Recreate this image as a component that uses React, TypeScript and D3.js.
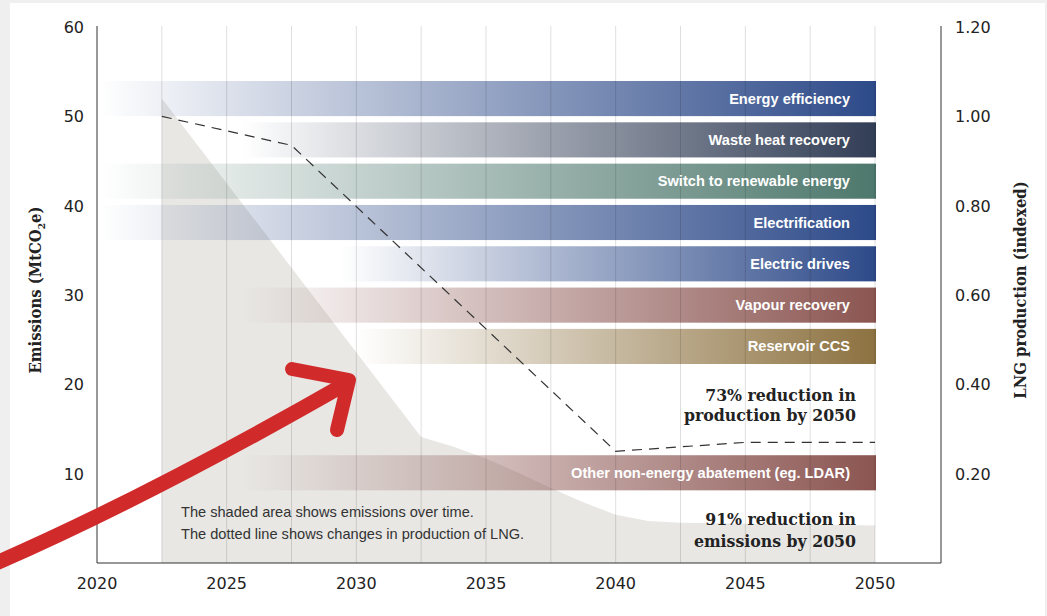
import React from 'react';
import * as d3 from 'd3';

// values
const xTickYears = [2020, 2025, 2030, 2035, 2040, 2045, 2050];
const emissionTicks = [10, 20, 30, 40, 50, 60];
const lngTicks = [0.2, 0.4, 0.6, 0.8, 1.0, 1.2];

const leverNames = [
  'Energy efficiency',
  'Waste heat recovery',
  'Switch to renewable energy',
  'Electrification',
  'Electric drives',
  'Vapour recovery',
  'Reservoir CCS',
];
const leverStartYears = [2020.1, 2025.6, 2020.1, 2020.1, 2029.4, 2025.6, 2030.0];
const otherLeverName = 'Other non-energy abatement (eg. LDAR)';
const otherLeverStartYear = 2025.6;
const otherLeverLevel = 10.1;

const emissionYears = [2022.5, 2032.5, 2033.75, 2035, 2036.25, 2037.5, 2038.75, 2040, 2041.25, 2042.5, 2050];
const emissionValues = [52, 14.1, 13.0, 11.7, 10.1, 8.4, 6.8, 5.4, 4.7, 4.5, 4.2];

const lngYears = [2022.5, 2027.5, 2040, 2045, 2050];
const lngValues = [1.0, 0.935, 0.25, 0.27, 0.27];

const leverColors: Record<string, string> = {
  'Energy efficiency': '#2d4a89',
  'Waste heat recovery': '#323e56',
  'Switch to renewable energy': '#4e786d',
  'Electrification': '#2d4a89',
  'Electric drives': '#2d4a89',
  'Vapour recovery': '#8b5551',
  'Reservoir CCS': '#8d7241',
  [otherLeverName]: '#8b5551',
};

const W = 1047;
const H = 616;
const left = 97;
const right = 941;
const top = 27;
const bottom = 563;

const tickFont = '"DejaVu Sans", sans-serif';
const slabFont = '"DejaVu Serif", serif';
const labelFont = '"Liberation Sans", Arial, sans-serif';

const App: React.FC = () => {
  const x = d3.scaleLinear().domain([2020, 2050]).range([left, 875]);
  const yL = d3.scaleLinear().domain([0, 60]).range([bottom, top]);
  const yR = d3.scaleLinear().domain([0, 1.2]).range([bottom, top]);
  const band = d3.scaleBand<string>().domain(leverNames).range([81, 364]).paddingInner(0.15);
  const bh = band.bandwidth();

  const bars = leverNames.map((name, i) => ({
    name,
    start: leverStartYears[i],
    y: band(name) as number,
  }));
  bars.push({ name: otherLeverName, start: otherLeverStartYear, y: yL(otherLeverLevel) - bh / 2 });

  const emissions = emissionYears.map((yr, i) => [yr, emissionValues[i]] as [number, number]);
  const area = d3.area<[number, number]>()
    .x((d) => x(d[0]))
    .y0(yL(0))
    .y1((d) => yL(d[1]));

  const lng = lngYears.map((yr, i) => [yr, lngValues[i]] as [number, number]);
  const line = d3.line<[number, number]>()
    .x((d) => x(d[0]))
    .y((d) => yR(d[1]));

  const grid = d3.range(2022.5, 2050.01, 2.5);

  return (
    <svg width={W} height={H} style={{ position: 'absolute', left: 0, top: 0 }}>
      <defs>
        {bars.map((b, i) => (
          <linearGradient key={i} id={`grad${i}`} gradientUnits="userSpaceOnUse"
            x1={x(b.start)} x2={x(2050)} y1={0} y2={0}>
            <stop offset="0" stopColor={leverColors[b.name]} stopOpacity={0} />
            <stop offset="1" stopColor={leverColors[b.name]} stopOpacity={1} />
          </linearGradient>
        ))}
      </defs>
      <rect width={W} height={H} fill="#efefef" />
      <rect x={10} y={3} width={1035} height={H} fill="#ffffff" />

      <path d={area(emissions) ?? ''} fill="#e8e7e4" />

      {bars.map((b, i) => (
        <rect key={b.name} x={x(b.start)} y={b.y} width={x(2050) - x(b.start) + 1} height={bh}
          fill={`url(#grad${i})`} />
      ))}

      {grid.map((g) => (
        <line key={g} x1={x(g)} x2={x(g)} y1={26} y2={bottom} stroke="#000" strokeOpacity={0.13} />
      ))}

      <path d={line(lng) ?? ''} fill="none" stroke="#333" strokeWidth={1.2} strokeDasharray="10,7" />

      {bars.map((b) => (
        <text key={b.name} x={850} y={b.y + bh / 2 + 5} textAnchor="end" fill="#fff"
          fontFamily={labelFont} fontWeight="bold" fontSize={14.6}>{b.name}</text>
      ))}

      {/* axes */}
      <line x1={left} x2={left} y1={26} y2={bottom} stroke="#333" />
      <line x1={right} x2={right} y1={26} y2={bottom} stroke="#333" />
      <line x1={left} x2={right} y1={bottom} y2={bottom} stroke="#333" />

      {emissionTicks.map((t) => (
        <text key={t} x={84} y={yL(t) + 6} textAnchor="end" fontFamily={tickFont} fontSize={16} fill="#222">{t}</text>
      ))}
      {lngTicks.map((t) => (
        <text key={t} x={955} y={yR(t) + 6} fontFamily={tickFont} fontSize={16} fill="#222">{d3.format('.2f')(t)}</text>
      ))}
      {xTickYears.map((t) => (
        <text key={t} x={x(t)} y={589} textAnchor="middle" fontFamily={tickFont} fontSize={16} fill="#222">{t}</text>
      ))}

      <text transform="translate(41,290) rotate(-90)" textAnchor="middle" fontFamily={slabFont}
        fontWeight="bold" fontSize={16.5} fill="#222" style={{ fontStretch: 'condensed' }}>
        Emissions (MtCO<tspan fontSize={10} dy={4}>2</tspan><tspan dy={-4}>e)</tspan>
      </text>
      <text transform="translate(1026,290) rotate(-90)" textAnchor="middle" fontFamily={slabFont}
        fontWeight="bold" fontSize={16.5} fill="#222" style={{ fontStretch: 'condensed' }}>LNG production (indexed)</text>

      <g fontFamily={slabFont} fontWeight="bold" fontSize={17.5} fill="#222" textAnchor="end"
        style={{ fontStretch: 'condensed' }}>
        <text x={856} y={401}>73% reduction in</text>
        <text x={856} y={421}>production by 2050</text>
        <text x={856} y={525}>91% reduction in</text>
        <text x={856} y={547}>emissions by 2050</text>
      </g>

      <g fontFamily={labelFont} fontSize={14.6} fill="#333">
        <text x={181} y={517}>The shaded area shows emissions over time.</text>
        <text x={181} y={539}>The dotted line shows changes in production of LNG.</text>
      </g>

      <g fill="none" stroke="#d12a2a" strokeLinecap="round" strokeLinejoin="round">
        <path d="M-6,564 Q150,496 347,383" strokeWidth={15} />
        <path d="M292,369 L349,380 L337,430" strokeWidth={14} />
      </g>
    </svg>
  );
};

export default App;
